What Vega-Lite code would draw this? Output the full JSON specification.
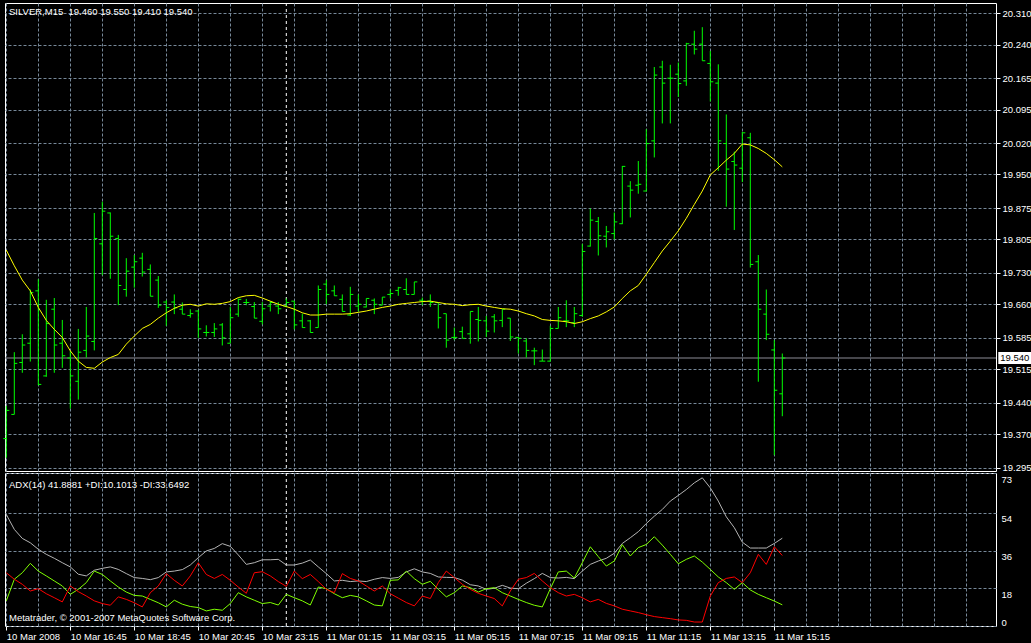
{
  "$schema": "https://vega.github.io/schema/vega-lite/v6.json",
  "background": "#000000",
  "padding": {"left": 2, "top": 2, "right": 38, "bottom": 18},
  "spacing": 2,
  "bounds": "flush",
  "config": {
    "view": {"stroke": "#FFFFFF", "strokeWidth": 1},
    "axis": {
      "labelColor": "#FFFFFF", "labelFont": "Liberation Sans", "labelFontSize": 9.5,
      "domain": false, "gridColor": "#778899", "gridDash": [3, 2], "gridWidth": 1, "gridOpacity": 1,
      "tickColor": "#FFFFFF", "title": null, "labelOverlap": false
    },
    "text": {"font": "Liberation Sans", "fontSize": 9.5, "color": "#FFFFFF"}
  },
  "datasets": {
    "bars": [
      {"i":0,"o":19.36,"h":19.433,"l":19.317,"c":19.423,"ma":19.781,"adx":53.2,"pdi":12.0,"mdi":25.4},
      {"i":1,"o":19.414,"h":19.553,"l":19.414,"c":19.528,"ma":19.746,"adx":46.1,"pdi":22.3,"mdi":22.3},
      {"i":2,"o":19.53,"h":19.593,"l":19.507,"c":19.569,"ma":19.714,"adx":41.8,"pdi":25.4,"mdi":19.9},
      {"i":3,"o":19.573,"h":19.693,"l":19.532,"c":19.686,"ma":19.69,"adx":39.7,"pdi":29.9,"mdi":16.7},
      {"i":4,"o":19.69,"h":19.716,"l":19.479,"c":19.481,"ma":19.653,"adx":36.6,"pdi":26.2,"mdi":17.8},
      {"i":5,"o":19.5,"h":19.67,"l":19.498,"c":19.617,"ma":19.624,"adx":34.2,"pdi":23.9,"mdi":15.4},
      {"i":6,"o":19.649,"h":19.674,"l":19.507,"c":19.569,"ma":19.604,"adx":32.3,"pdi":21.5,"mdi":13.5},
      {"i":7,"o":19.573,"h":19.625,"l":19.518,"c":19.545,"ma":19.586,"adx":30.2,"pdi":19.1,"mdi":11.5},
      {"i":8,"o":19.54,"h":19.556,"l":19.427,"c":19.5,"ma":19.556,"adx":28.2,"pdi":15.1,"mdi":19.1},
      {"i":9,"o":19.488,"h":19.605,"l":19.447,"c":19.553,"ma":19.533,"adx":24.7,"pdi":17.5,"mdi":16.4},
      {"i":10,"o":19.557,"h":19.654,"l":19.541,"c":19.589,"ma":19.519,"adx":23.9,"pdi":20.7,"mdi":14.3},
      {"i":11,"o":19.577,"h":19.864,"l":19.557,"c":19.807,"ma":19.517,"adx":26.6,"pdi":26.2,"mdi":12.0},
      {"i":12,"o":19.795,"h":19.889,"l":19.725,"c":19.868,"ma":19.531,"adx":27.5,"pdi":24.6,"mdi":10.7},
      {"i":13,"o":19.864,"h":19.865,"l":19.717,"c":19.812,"ma":19.541,"adx":28.2,"pdi":21.5,"mdi":9.9},
      {"i":14,"o":19.807,"h":19.815,"l":19.658,"c":19.702,"ma":19.548,"adx":27.0,"pdi":18.6,"mdi":13.9},
      {"i":15,"o":19.693,"h":19.763,"l":19.677,"c":19.734,"ma":19.571,"adx":25.0,"pdi":16.2,"mdi":12.7},
      {"i":16,"o":19.743,"h":19.77,"l":19.697,"c":19.755,"ma":19.589,"adx":23.1,"pdi":14.6,"mdi":11.1},
      {"i":17,"o":19.763,"h":19.775,"l":19.722,"c":19.732,"ma":19.606,"adx":22.7,"pdi":14.3,"mdi":9.1},
      {"i":18,"o":19.738,"h":19.749,"l":19.678,"c":19.678,"ma":19.615,"adx":22.1,"pdi":12.7,"mdi":15.9},
      {"i":19,"o":19.714,"h":19.723,"l":19.652,"c":19.658,"ma":19.629,"adx":23.1,"pdi":11.1,"mdi":19.1},
      {"i":20,"o":19.665,"h":19.669,"l":19.612,"c":19.653,"ma":19.641,"adx":25.8,"pdi":9.1,"mdi":25.0},
      {"i":21,"o":19.665,"h":19.682,"l":19.638,"c":19.652,"ma":19.651,"adx":26.2,"pdi":12.3,"mdi":21.8},
      {"i":22,"o":19.649,"h":19.664,"l":19.638,"c":19.638,"ma":19.658,"adx":26.9,"pdi":10.4,"mdi":19.1},
      {"i":23,"o":19.635,"h":19.649,"l":19.63,"c":19.639,"ma":19.66,"adx":29.1,"pdi":9.3,"mdi":23.9},
      {"i":24,"o":19.645,"h":19.647,"l":19.585,"c":19.605,"ma":19.656,"adx":32.6,"pdi":8.8,"mdi":30.2},
      {"i":25,"o":19.597,"h":19.613,"l":19.588,"c":19.597,"ma":19.661,"adx":35.8,"pdi":7.2,"mdi":24.6},
      {"i":26,"o":19.597,"h":19.618,"l":19.587,"c":19.605,"ma":19.66,"adx":37.0,"pdi":8.0,"mdi":22.7},
      {"i":27,"o":19.614,"h":19.618,"l":19.568,"c":19.585,"ma":19.662,"adx":39.3,"pdi":7.5,"mdi":24.6},
      {"i":28,"o":19.573,"h":19.654,"l":19.573,"c":19.63,"ma":19.666,"adx":38.0,"pdi":10.7,"mdi":21.8},
      {"i":29,"o":19.638,"h":19.673,"l":19.632,"c":19.671,"ma":19.675,"adx":33.9,"pdi":15.9,"mdi":18.6},
      {"i":30,"o":19.664,"h":19.672,"l":19.658,"c":19.664,"ma":19.679,"adx":29.4,"pdi":13.9,"mdi":15.6},
      {"i":31,"o":19.655,"h":19.665,"l":19.629,"c":19.629,"ma":19.68,"adx":30.2,"pdi":12.3,"mdi":25.4},
      {"i":32,"o":19.622,"h":19.665,"l":19.615,"c":19.65,"ma":19.674,"adx":31.6,"pdi":10.7,"mdi":25.9},
      {"i":33,"o":19.656,"h":19.667,"l":19.644,"c":19.664,"ma":19.667,"adx":31.6,"pdi":11.2,"mdi":23.9},
      {"i":34,"o":19.656,"h":19.665,"l":19.638,"c":19.65,"ma":19.66,"adx":31.8,"pdi":10.0,"mdi":21.2},
      {"i":35,"o":19.656,"h":19.673,"l":19.653,"c":19.664,"ma":19.655,"adx":29.1,"pdi":15.1,"mdi":18.9},
      {"i":36,"o":19.667,"h":19.667,"l":19.604,"c":19.614,"ma":19.649,"adx":29.1,"pdi":13.5,"mdi":26.2},
      {"i":37,"o":19.623,"h":19.639,"l":19.608,"c":19.608,"ma":19.641,"adx":30.0,"pdi":12.0,"mdi":22.6},
      {"i":38,"o":19.623,"h":19.625,"l":19.597,"c":19.597,"ma":19.636,"adx":31.5,"pdi":10.0,"mdi":24.6},
      {"i":39,"o":19.608,"h":19.702,"l":19.608,"c":19.693,"ma":19.636,"adx":28.2,"pdi":18.6,"mdi":21.2},
      {"i":40,"o":19.705,"h":19.714,"l":19.66,"c":19.682,"ma":19.638,"adx":25.0,"pdi":17.8,"mdi":17.5},
      {"i":41,"o":19.69,"h":19.702,"l":19.679,"c":19.679,"ma":19.638,"adx":21.5,"pdi":15.4,"mdi":15.9},
      {"i":42,"o":19.671,"h":19.682,"l":19.644,"c":19.644,"ma":19.638,"adx":21.8,"pdi":13.5,"mdi":25.0},
      {"i":43,"o":19.636,"h":19.699,"l":19.634,"c":19.682,"ma":19.639,"adx":21.2,"pdi":14.6,"mdi":22.7},
      {"i":44,"o":19.656,"h":19.682,"l":19.644,"c":19.66,"ma":19.642,"adx":21.5,"pdi":13.9,"mdi":21.5},
      {"i":45,"o":19.654,"h":19.673,"l":19.653,"c":19.673,"ma":19.645,"adx":21.2,"pdi":12.0,"mdi":19.1},
      {"i":46,"o":19.669,"h":19.673,"l":19.638,"c":19.66,"ma":19.649,"adx":22.3,"pdi":10.0,"mdi":16.7},
      {"i":47,"o":19.658,"h":19.676,"l":19.658,"c":19.676,"ma":19.653,"adx":23.1,"pdi":9.6,"mdi":19.1},
      {"i":48,"o":19.682,"h":19.693,"l":19.673,"c":19.684,"ma":19.656,"adx":22.7,"pdi":21.8,"mdi":15.4},
      {"i":49,"o":19.691,"h":19.699,"l":19.679,"c":19.697,"ma":19.66,"adx":23.2,"pdi":22.0,"mdi":13.3},
      {"i":50,"o":19.693,"h":19.718,"l":19.682,"c":19.682,"ma":19.662,"adx":25.8,"pdi":26.2,"mdi":11.2},
      {"i":51,"o":19.682,"h":19.71,"l":19.682,"c":19.71,"ma":19.664,"adx":27.3,"pdi":22.6,"mdi":9.6},
      {"i":52,"o":19.669,"h":19.675,"l":19.658,"c":19.667,"ma":19.666,"adx":25.8,"pdi":19.9,"mdi":14.3},
      {"i":53,"o":19.667,"h":19.682,"l":19.654,"c":19.664,"ma":19.667,"adx":25.1,"pdi":21.3,"mdi":13.1},
      {"i":54,"o":19.664,"h":19.664,"l":19.606,"c":19.63,"ma":19.664,"adx":23.4,"pdi":17.5,"mdi":20.7},
      {"i":55,"o":19.639,"h":19.639,"l":19.563,"c":19.58,"ma":19.661,"adx":23.2,"pdi":13.9,"mdi":26.2},
      {"i":56,"o":19.586,"h":19.608,"l":19.58,"c":19.586,"ma":19.66,"adx":23.1,"pdi":15.9,"mdi":23.1},
      {"i":57,"o":19.599,"h":19.61,"l":19.584,"c":19.584,"ma":19.657,"adx":21.9,"pdi":19.1,"mdi":19.9},
      {"i":58,"o":19.594,"h":19.644,"l":19.572,"c":19.644,"ma":19.659,"adx":19.7,"pdi":18.3,"mdi":17.5},
      {"i":59,"o":19.626,"h":19.654,"l":19.577,"c":19.624,"ma":19.66,"adx":19.1,"pdi":16.2,"mdi":15.6},
      {"i":60,"o":19.623,"h":19.634,"l":19.587,"c":19.6,"ma":19.656,"adx":17.5,"pdi":17.8,"mdi":14.3},
      {"i":61,"o":19.632,"h":19.638,"l":19.597,"c":19.623,"ma":19.653,"adx":18.0,"pdi":18.3,"mdi":13.1},
      {"i":62,"o":19.624,"h":19.649,"l":19.609,"c":19.649,"ma":19.65,"adx":19.4,"pdi":15.9,"mdi":9.6},
      {"i":63,"o":19.629,"h":19.629,"l":19.578,"c":19.587,"ma":19.649,"adx":18.1,"pdi":14.3,"mdi":16.7},
      {"i":64,"o":19.586,"h":19.587,"l":19.55,"c":19.584,"ma":19.645,"adx":17.8,"pdi":12.7,"mdi":22.3},
      {"i":65,"o":19.578,"h":19.584,"l":19.541,"c":19.557,"ma":19.639,"adx":20.4,"pdi":11.2,"mdi":23.1},
      {"i":66,"o":19.556,"h":19.563,"l":19.524,"c":19.556,"ma":19.634,"adx":22.6,"pdi":9.9,"mdi":25.1},
      {"i":67,"o":19.533,"h":19.559,"l":19.533,"c":19.533,"ma":19.626,"adx":25.1,"pdi":9.1,"mdi":21.5},
      {"i":68,"o":19.533,"h":19.612,"l":19.532,"c":19.606,"ma":19.624,"adx":23.1,"pdi":17.8,"mdi":18.3},
      {"i":69,"o":19.606,"h":19.654,"l":19.606,"c":19.63,"ma":19.623,"adx":22.9,"pdi":25.8,"mdi":15.9},
      {"i":70,"o":19.623,"h":19.669,"l":19.609,"c":19.623,"ma":19.621,"adx":23.2,"pdi":26.2,"mdi":14.3},
      {"i":71,"o":19.619,"h":19.654,"l":19.609,"c":19.639,"ma":19.617,"adx":22.6,"pdi":22.9,"mdi":15.1},
      {"i":72,"o":19.635,"h":19.795,"l":19.632,"c":19.778,"ma":19.621,"adx":26.2,"pdi":30.2,"mdi":13.5},
      {"i":73,"o":19.79,"h":19.874,"l":19.789,"c":19.848,"ma":19.628,"adx":29.4,"pdi":37.8,"mdi":11.5},
      {"i":74,"o":19.845,"h":19.855,"l":19.769,"c":19.813,"ma":19.634,"adx":31.0,"pdi":33.1,"mdi":12.7},
      {"i":75,"o":19.812,"h":19.835,"l":19.787,"c":19.822,"ma":19.643,"adx":32.3,"pdi":28.6,"mdi":10.8},
      {"i":76,"o":19.818,"h":19.865,"l":19.805,"c":19.844,"ma":19.654,"adx":34.7,"pdi":31.0,"mdi":9.6},
      {"i":77,"o":19.84,"h":19.969,"l":19.839,"c":19.968,"ma":19.673,"adx":39.4,"pdi":38.8,"mdi":8.0},
      {"i":78,"o":19.924,"h":19.935,"l":19.854,"c":19.915,"ma":19.69,"adx":42.1,"pdi":33.4,"mdi":7.2},
      {"i":79,"o":19.926,"h":19.98,"l":19.907,"c":19.928,"ma":19.702,"adx":45.0,"pdi":37.4,"mdi":6.4},
      {"i":80,"o":19.913,"h":20.051,"l":19.912,"c":20.019,"ma":19.727,"adx":48.9,"pdi":38.9,"mdi":5.4},
      {"i":81,"o":20.025,"h":20.19,"l":19.988,"c":20.172,"ma":19.753,"adx":52.4,"pdi":42.6,"mdi":4.5},
      {"i":82,"o":20.19,"h":20.204,"l":20.064,"c":20.154,"ma":19.779,"adx":55.6,"pdi":38.6,"mdi":4.0},
      {"i":83,"o":20.165,"h":20.195,"l":20.064,"c":20.165,"ma":19.801,"adx":59.6,"pdi":34.2,"mdi":3.5},
      {"i":84,"o":20.174,"h":20.2,"l":20.123,"c":20.153,"ma":19.824,"adx":62.3,"pdi":29.7,"mdi":2.9},
      {"i":85,"o":20.159,"h":20.244,"l":20.148,"c":20.242,"ma":19.852,"adx":65.1,"pdi":31.8,"mdi":2.7},
      {"i":86,"o":20.241,"h":20.271,"l":20.218,"c":20.23,"ma":19.883,"adx":68.3,"pdi":33.4,"mdi":1.9},
      {"i":87,"o":20.241,"h":20.279,"l":20.204,"c":20.204,"ma":19.913,"adx":70.7,"pdi":30.5,"mdi":1.9},
      {"i":88,"o":20.198,"h":20.226,"l":20.113,"c":20.157,"ma":19.949,"adx":65.9,"pdi":27.0,"mdi":14.3},
      {"i":89,"o":20.154,"h":20.196,"l":19.958,"c":20.025,"ma":19.965,"adx":59.6,"pdi":23.4,"mdi":20.7},
      {"i":90,"o":20.019,"h":20.084,"l":19.878,"c":19.962,"ma":19.982,"adx":52.1,"pdi":20.7,"mdi":22.7},
      {"i":91,"o":19.979,"h":20.001,"l":19.826,"c":19.971,"ma":19.997,"adx":46.9,"pdi":17.5,"mdi":23.4},
      {"i":92,"o":19.964,"h":20.045,"l":19.933,"c":20.043,"ma":20.018,"adx":40.0,"pdi":20.7,"mdi":20.7},
      {"i":93,"o":20.032,"h":20.043,"l":19.742,"c":19.749,"ma":20.016,"adx":37.2,"pdi":17.2,"mdi":25.4},
      {"i":94,"o":19.755,"h":19.77,"l":19.487,"c":19.649,"ma":20.008,"adx":37.2,"pdi":15.1,"mdi":34.2},
      {"i":95,"o":19.638,"h":19.693,"l":19.58,"c":19.593,"ma":19.997,"adx":37.2,"pdi":13.5,"mdi":29.4},
      {"i":96,"o":19.558,"h":19.58,"l":19.323,"c":19.468,"ma":19.983,"adx":39.4,"pdi":11.9,"mdi":37.8},
      {"i":97,"o":19.46,"h":19.55,"l":19.41,"c":19.54,"ma":19.967,"adx":41.89,"pdi":10.1,"mdi":33.65}
    ]
  },
  "vconcat": [
    {
      "width": 991,
      "height": 468,
      "layer": [
        {
          "data": {"values": [{"p": 19.54}]},
          "mark": {"type": "rule", "color": "#8C8C96", "strokeWidth": 1},
          "encoding": {
            "y": {"field": "p", "type": "quantitative",
              "scale": {"domain": [19.2876, 20.333], "nice": false, "zero": false},
              "axis": {"orient": "right", "values": [19.295, 19.37, 19.44, 19.515, 19.585, 19.66, 19.73, 19.805, 19.875, 19.95, 20.02, 20.095, 20.165, 20.24, 20.31],
                "tickCount": 100, "format": ".3f", "tickSize": 4, "labelPadding": 2, "grid": true, "labelBaseline": "middle", "labelOverlap": false}}
          }
        },
        {
          "data": {"values": [{"sep": 35}]},
          "mark": {"type": "rule", "color": "#FFFFFF", "strokeDash": [3, 3], "strokeWidth": 1},
          "encoding": {
            "x": {"field": "sep", "type": "quantitative",
              "scale": {"domain": [-0.1625, 123.7125], "nice": false, "zero": false},
              "axis": {"values": [0,4,8,12,16,20,24,28,32,36,40,44,48,52,56,60,64,68,72,76,80,84,88,92,96,100,104,108,112,116,120],
                "tickCount": 100, "labels": false, "ticks": false, "grid": true}}
          }
        },
        {
          "data": {"name": "bars"},
          "mark": {"type": "rule", "color": "#00FF00", "strokeWidth": 1},
          "encoding": {
            "x": {"field": "i", "type": "quantitative"},
            "y": {"field": "l", "type": "quantitative"},
            "y2": {"field": "h"}
          }
        },
        {
          "data": {"name": "bars"},
          "mark": {"type": "rule", "color": "#00FF00", "strokeWidth": 1, "xOffset": -3},
          "encoding": {
            "x": {"field": "i", "type": "quantitative"},
            "x2": {"field": "i"},
            "y": {"field": "o", "type": "quantitative"}
          }
        },
        {
          "data": {"name": "bars"},
          "mark": {"type": "rule", "color": "#00FF00", "strokeWidth": 1, "x2Offset": 3},
          "encoding": {
            "x": {"field": "i", "type": "quantitative"},
            "x2": {"field": "i"},
            "y": {"field": "c", "type": "quantitative"}
          }
        },
        {
          "data": {"name": "bars"},
          "mark": {"type": "line", "color": "#FFFF00", "strokeWidth": 1},
          "encoding": {
            "x": {"field": "i", "type": "quantitative"},
            "y": {"field": "ma", "type": "quantitative"}
          }
        },
        {
          "data": {"values": [{"t": "SILVER,M15\u00a0 19.460 19.550 19.410 19.540"}]},
          "mark": {"type": "text", "align": "left", "baseline": "middle", "dx": 4},
          "encoding": {
            "x": {"datum": -0.1625, "type": "quantitative"},
            "y": {"datum": 20.3136, "type": "quantitative"},
            "text": {"field": "t"}
          }
        },
        {
          "data": {"values": [{"p": 19.54}]},
          "mark": {"type": "rect", "color": "#FFFFFF"},
          "encoding": {
            "x": {"datum": 124.0, "type": "quantitative"},
            "x2": {"datum": 128.2},
            "y": {"datum": 19.5265, "type": "quantitative"},
            "y2": {"datum": 19.5535}
          }
        },
        {
          "data": {"values": [{"t": "19.540"}]},
          "mark": {"type": "text", "align": "left", "baseline": "middle", "color": "#000000", "dx": 2},
          "encoding": {
            "x": {"datum": 124.0, "type": "quantitative"},
            "y": {"datum": 19.54, "type": "quantitative"},
            "text": {"field": "t"}
          }
        }
      ]
    },
    {
      "width": 991,
      "height": 153,
      "layer": [
        {
          "data": {"values": [{"sep": 35}]},
          "mark": {"type": "rule", "color": "#FFFFFF", "strokeDash": [3, 3], "strokeWidth": 1},
          "encoding": {
            "x": {"field": "sep", "type": "quantitative",
              "scale": {"domain": [-0.1625, 123.7125], "nice": false, "zero": false},
              "axis": {"values": [0,4,8,12,16,20,24,28,32,36,40,44,48,52,56,60,64,68,72,76,80,84,88,92,96,100,104,108,112,116,120],
                "tickCount": 100, "grid": true, "tickSize": 4, "labelPadding": 1, "labelAlign": "left", "labelOverlap": false,
                "tickOpacity": {"condition": {"test": "datum.value % 8 != 0 || datum.value > 96", "value": 0}, "value": 1},
                "labelExpr": "(datum.value % 8 == 0 && datum.value <= 96) ? ['10 Mar 2008','10 Mar 16:45','10 Mar 18:45','10 Mar 20:45','10 Mar 23:15','11 Mar 01:15','11 Mar 03:15','11 Mar 05:15','11 Mar 07:15','11 Mar 09:15','11 Mar 11:15','11 Mar 13:15','11 Mar 15:15'][datum.value / 8] : ''"}}
          }
        },
        {
          "data": {"name": "bars"},
          "mark": {"type": "line", "color": "#B4B4B4", "strokeWidth": 1},
          "encoding": {
            "x": {"field": "i", "type": "quantitative"},
            "y": {"field": "adx", "type": "quantitative",
              "scale": {"domain": [0, 73], "nice": false, "zero": false},
              "axis": {"orient": "right", "values": [0, 18, 36, 54, 73], "tickCount": 100, "grid": true, "tickSize": 0, "labelPadding": 5,
                "labelOverlap": false,
                "labelBaseline": {"condition": {"test": "datum.value == 0", "value": "bottom"}, "value": "top"},
                "labelOffset": 1}}
          }
        },
        {
          "data": {"name": "bars"},
          "mark": {"type": "line", "color": "#7FFF00", "strokeWidth": 1},
          "encoding": {
            "x": {"field": "i", "type": "quantitative"},
            "y": {"field": "pdi", "type": "quantitative"}
          }
        },
        {
          "data": {"name": "bars"},
          "mark": {"type": "line", "color": "#FF0000", "strokeWidth": 1},
          "encoding": {
            "x": {"field": "i", "type": "quantitative"},
            "y": {"field": "mdi", "type": "quantitative"}
          }
        },
        {
          "data": {"values": [{"t": "ADX(14) 41.8881 +DI:10.1013 -DI:33.6492"}]},
          "mark": {"type": "text", "align": "left", "baseline": "middle", "dx": 4},
          "encoding": {
            "x": {"datum": -0.1625, "type": "quantitative"},
            "y": {"datum": 67.2, "type": "quantitative"},
            "text": {"field": "t"}
          }
        },
        {
          "data": {"values": [{"t": "Metatrader, © 2001-2007 MetaQuotes Software Corp."}]},
          "mark": {"type": "text", "align": "left", "baseline": "middle", "dx": 4},
          "encoding": {
            "x": {"datum": -0.1625, "type": "quantitative"},
            "y": {"datum": 3.9, "type": "quantitative"},
            "text": {"field": "t"}
          }
        }
      ]
    }
  ]
}
